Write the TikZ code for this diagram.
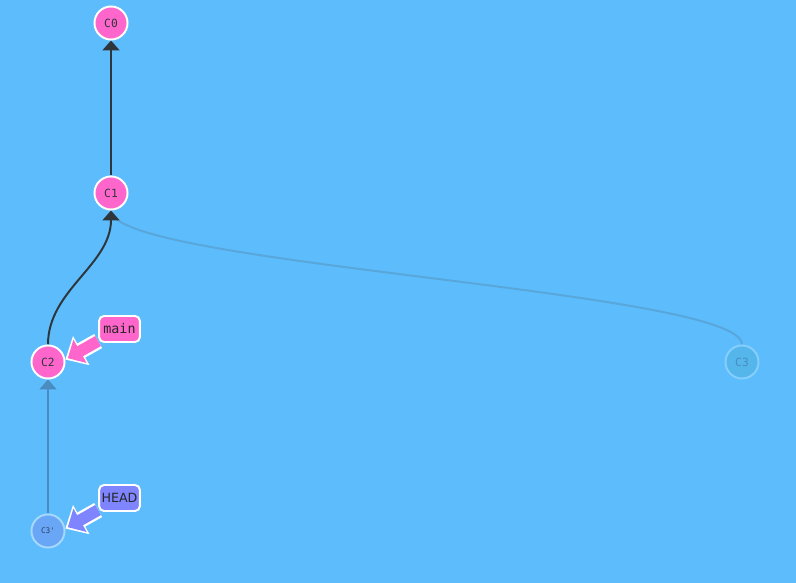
\documentclass[tikz,border=0pt]{standalone}
\usepackage{fontspec}
\newfontfamily\monofont{DejaVu Sans Mono}
\newfontfamily\labelfont{DejaVu Sans}
\usetikzlibrary{arrows.meta}
\definecolor{sky}{HTML}{5CBCFC}
\definecolor{pinkc}{HTML}{FF66CC}
\definecolor{headc}{HTML}{7F85FF}
\definecolor{darkedge}{HTML}{2E363C}
\definecolor{fadeedge}{HTML}{4A8CC0}
\definecolor{fadecurve}{HTML}{58A6DA}
\definecolor{ghostfill}{HTML}{55B6EC}
\definecolor{ghostline}{HTML}{86CFFC}
\definecolor{pendfill}{HTML}{6AA6F6}
\definecolor{pendline}{HTML}{A6D8FF}
\pgfdeclarelayer{bg}
\pgfdeclarelayer{edges}
\pgfsetlayers{bg,edges,main}
\tikzset{
  commit/.style={circle, draw=white, line width=1.4pt, fill=pinkc, minimum size=23.5pt, inner sep=0pt,
    text=darkedge, font=\monofont\fontsize{8}{9}\selectfont},
  ghost/.style={commit, draw=ghostline, fill=ghostfill, text=fadeedge},
  pending/.style={commit, draw=pendline, fill=pendfill, text=black!60!pendfill,
    font=\monofont\fontsize{5.5}{6}\selectfont},
  tag/.style={draw=white, line width=1.4pt, rounded corners=3.5pt, minimum width=29pt, minimum height=18.5pt,
    inner sep=1pt, text=black!85},
  edge/.style={draw=darkedge, line width=1.4pt, -{Triangle[length=7pt,width=12pt]}},
  fadededge/.style={edge, draw=fadeedge, fill=fadeedge},
  ptrout/.style={draw=white, line width=11.5pt, -{Triangle[length=13pt,width=23pt]}},
  ptrin/.style={line width=8.2pt, shorten >=2pt, -{Triangle[length=10pt,width=18.5pt]}}
}
\begin{document}
\begin{tikzpicture}[x=0.025cm, y=-0.025cm]
  \begin{pgfonlayer}{bg}
    \fill[sky] (0,0) rectangle (796,583);
  \end{pgfonlayer}
  \useasboundingbox (0,0) rectangle (796,583);

  \node[commit] (C0) at (111,23) {C0};
  \node[commit] (C1) at (111,193) {C1};
  \node[commit] (C2) at (48,362) {C2};
  \node[ghost] (C3) at (742,362) {C3};
  \node[pending] (C3p) at (48,531) {C3'};

  \node[tag, fill=pinkc, font=\monofont\fontsize{9.5}{10}\selectfont] (main) at (119.5,329) {main};
  \node[tag, fill=headc, font=\labelfont\fontsize{9}{10}\selectfont] (HEAD) at (119.5,498) {HEAD};

  \begin{pgfonlayer}{edges}
    \draw[fadecurve, line width=1.4pt] (C3.north) .. controls (742,290) and (111,265) .. (C1.south);
    \draw[edge] (C1) -- (C0);
    \draw[edge] (C2.north) .. controls (48,290) and (111,265) .. (C1.south);
    \draw[fadededge] (C3p) -- (C2);

    \draw[ptrout] (main) -- (C2.8);
    \draw[ptrin, draw=pinkc, fill=pinkc] (main) -- (C2.8);
    \draw[ptrout] (HEAD) -- (C3p.8);
    \draw[ptrin, draw=headc, fill=headc] (HEAD) -- (C3p.8);
  \end{pgfonlayer}
\end{tikzpicture}
\end{document}
